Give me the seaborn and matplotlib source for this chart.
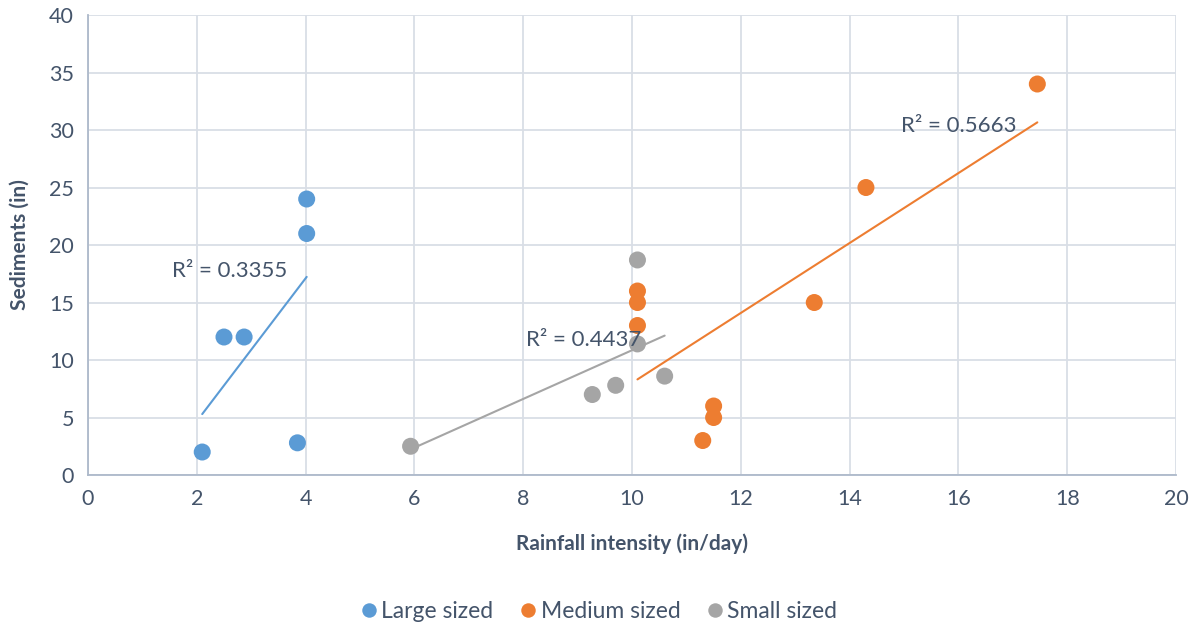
import matplotlib
matplotlib.use("Agg")
import matplotlib.pyplot as plt
import pandas as pd
import seaborn as sns

# values
large_x = [2.1, 2.5, 2.87, 3.85, 4.02, 4.02]
large_y = [2.0, 12.0, 12.0, 2.8, 21.0, 24.0]
medium_x = [10.1, 10.1, 10.1, 11.3, 11.5, 11.5, 13.35, 14.3, 17.45]
medium_y = [16.0, 15.0, 13.0, 3.0, 5.0, 6.0, 15.0, 25.0, 34.0]
small_x = [5.93, 9.27, 9.7, 10.1, 10.1, 10.6]
small_y = [2.5, 7.0, 7.8, 18.7, 11.4, 8.6]

groups = ["Large sized", "Medium sized", "Small sized"]
r2_labels = ["R² = 0.3355", "R² = 0.5663", "R² = 0.4437"]
colors = ["#5B9BD5", "#ED7D31", "#A5A5A5"]

df = pd.concat([
    pd.DataFrame({"x": large_x, "y": large_y, "group": groups[0]}),
    pd.DataFrame({"x": medium_x, "y": medium_y, "group": groups[1]}),
    pd.DataFrame({"x": small_x, "y": small_y, "group": groups[2]}),
])

sns.set_style("white")
plt.rcParams["font.family"] = ["Lato", "DejaVu Sans"]
text_col = "#44546A"

fig = plt.figure(figsize=(11.97, 6.28), dpi=100)
ax = fig.add_axes([0.0735, 0.2436, 0.909, 0.7325])

palette = dict(zip(groups, colors))
# trend lines
for g in groups:
    sub = df[df.group == g]
    sns.regplot(data=sub, x="x", y="y", ax=ax, scatter=False, ci=None,
                truncate=True, color=palette[g], line_kws={"lw": 1.5})

sns.scatterplot(data=df, x="x", y="y", hue="group", palette=palette, ax=ax,
                s=150, edgecolor="none", zorder=3)

# R² annotations
ax.text(1.55, 17.2, r2_labels[0], fontsize=16, color=text_col)
ax.text(8.05, 11.2, r2_labels[2], fontsize=16, color=text_col)
ax.text(14.95, 29.8, r2_labels[1], fontsize=16, color=text_col)

ax.set_xlim(0, 20)
ax.set_ylim(0, 40)
ax.set_xticks(range(0, 21, 2))
ax.set_yticks(range(0, 41, 5))
ax.grid(True, color="#D9DEE6", lw=1.3)
ax.set_axisbelow(True)
for side in ["top", "right"]:
    ax.spines[side].set_visible(False)
for side in ["left", "bottom"]:
    ax.spines[side].set_color("#ADB9CA")
    ax.spines[side].set_linewidth(1.3)
ax.tick_params(length=0, labelsize=15.5, labelcolor=text_col, pad=10)
ax.set_xlabel("Rainfall intensity (in/day)", fontsize=15, fontweight="bold",
              color=text_col, labelpad=18)
ax.set_ylabel("Sediments (in)", fontsize=15, fontweight="bold",
              color=text_col, labelpad=14)

ax.legend_.remove()
handles, labels = ax.get_legend_handles_labels()
fig.legend(handles, labels, loc="center", bbox_to_anchor=(0.5, 0.027),
           ncol=3, frameon=False, fontsize=16.5, labelcolor=text_col,
           handlelength=0.8, handletextpad=0.15, columnspacing=1.1,
           markerscale=0.85)

fig.savefig("out.png", dpi=100)
